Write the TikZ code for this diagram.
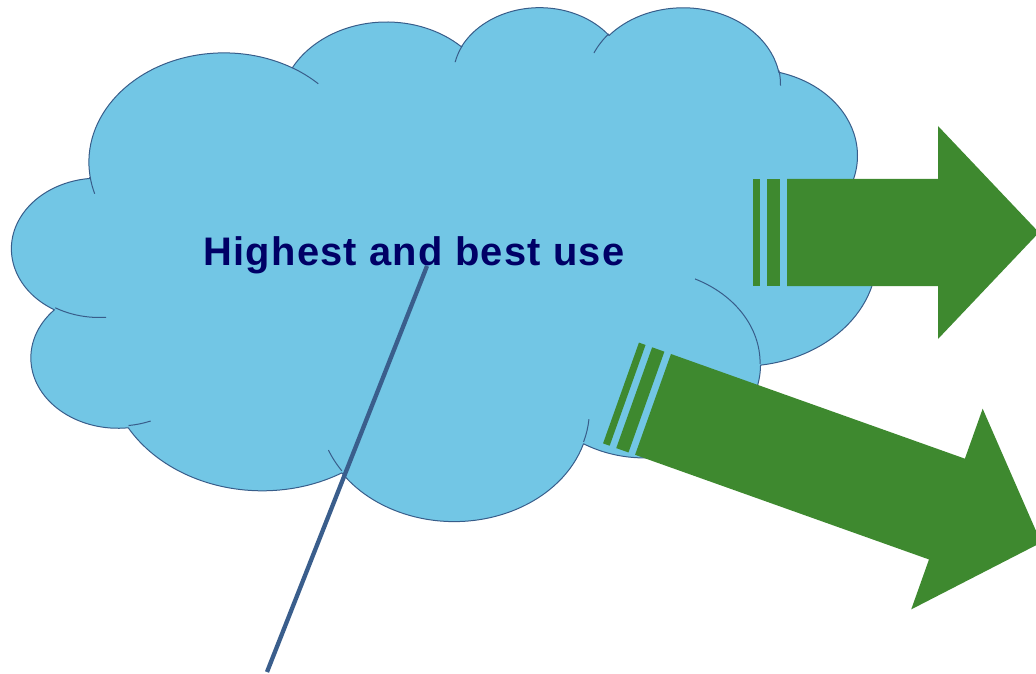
\documentclass[tikz,border=0pt]{standalone}
\usepackage{fontspec}
\newfontfamily\labelfont{Liberation Sans}[LetterSpace=3.2]
\definecolor{cloudfill}{RGB}{114,198,229}
\definecolor{cloudline}{RGB}{56,93,138}
\definecolor{arrowgreen}{RGB}{62,137,47}
\definecolor{textnavy}{RGB}{0,0,102}
\definecolor{stickblue}{RGB}{58,94,140}

% visual (OOXML) angle -> parametric angle, unwrapped near the visual one
\newcommand\vpang[4]{%
  \pgfmathsetmacro\vpd{atan2((#3)*sin(#2),(#4)*cos(#2))-(#2)}%
  \pgfmathsetmacro\vpres{(#2)+mod(\vpd+900,360)-180}%
  \xdef#1{\vpres}}
\def\cloudpath{}
\def\innerpath{}
% #1 wR, #2 hR, #3 start angle, #4 sweep
\newcommand\addarc[4]{%
  \vpang\ps{#3}{#1}{#2}\vpang\pe{(#3)+(#4)}{#1}{#2}%
  \xdef\cloudpath{\cloudpath arc[start angle=\ps,end angle=\pe,x radius=#1,y radius=#2] }}
% #1 start point, then wR hR start sweep
\newcommand\addinner[5]{%
  \vpang\ps{#4}{#2}{#3}\vpang\pe{(#4)+(#5)}{#2}{#3}%
  \xdef\innerpath{\innerpath (#1) arc[start angle=\ps,end angle=\pe,x radius=#2,y radius=#3] }}

\newcommand\stripedarrow[2]{%
  \fill[arrowgreen] (0,-53.5) rectangle (7,53.5);
  \fill[arrowgreen] (14,-53.5) rectangle (27,53.5);
  \fill[arrowgreen] (34,-53.5) -- (#1,-53.5) -- (#1,-106.5) -- ({#1+#2},0)
     -- (#1,106.5) -- (#1,53.5) -- (34,53.5) -- cycle;}

\tikzset{
  cloudshape/.style={fill=cloudfill, draw=cloudline, line width=1bp, line join=round},
  cloudinner/.style={draw=cloudline, line width=1bp},
  stickline/.style={draw=stickblue, line width=4.3bp},
  titletext/.style={font=\labelfont\bfseries\fontsize{40}{46}\selectfont, text=textnavy, anchor=base, inner sep=0pt}
}

\begin{document}
\begin{tikzpicture}[x=1bp, y=-1bp]
\clip (0,0) rectangle (1036,674);

\addarc{6.753}{9.190}{-190.48748}{123.78053}
\addarc{5.333}{7.267}{-144.10238}{89.94523}
\addarc{4.365}{5.945}{-145.80792}{99.72302}
\addarc{4.857}{6.595}{-130.98607}{117.24173}
\addarc{5.333}{7.273}{-78.70888}{109.02692}
\addarc{6.775}{9.220}{-46.26725}{130.26900}
\addarc{5.785}{7.867}{0.62502}{114.03333}
\addarc{6.752}{9.215}{22.45160}{115.17255}
\addarc{7.720}{10.543}{66.24263}{75.71102}
\addarc{4.360}{5.918}{-274.94208}{146.73557}
\addarc{4.345}{5.945}{-246.82850}{152.51885}

\addinner{4.693,26.177}{4.345}{5.945}{86.74200}{26.42950}
\addinner{6.928,34.899}{4.360}{5.918}{73.61047}{11.44747}
\addinner{16.478,39.090}{6.752}{9.215}{137.62415}{14.08110}
\addinner{28.827,34.751}{6.752}{9.215}{6.45327}{15.99835}
\addinner{34.129,22.954}{5.785}{7.867}{-70.29235}{70.91737}
\addinner{41.798,15.354}{5.333}{7.273}{30.31803}{27.75150}
\addinner{38.324,5.426}{4.857}{6.595}{-13.74433}{14.85890}
\addinner{29.078,3.952}{4.857}{6.595}{-149.18145}{18.19537}
\addinner{22.141,4.720}{4.365}{5.945}{-163.49428}{17.68635}
\addinner{14.000,5.192}{6.753}{9.190}{-66.70695}{12.31935}
\addinner{4.127,15.789}{6.753}{9.190}{157.65435}{11.85817}

\begin{scope}[shift={(12.1,6)}, x=20.01bp, y=-11.891bp]
  \path[cloudshape] (3.9,14.37) \cloudpath -- cycle;
  \path[cloudinner] \innerpath;
\end{scope}

\coordinate (stickTop) at (427,266);
\coordinate (stickEnd) at (267,672);
\draw[stickline] (stickTop) -- (stickEnd);

\node[titletext] (title) at (414,265) {Highest and best use};

\begin{scope}[shift={(753,232.5)}]
  \stripedarrow{185}{101}
\end{scope}
\begin{scope}[shift={(621,393)}, rotate=-19.6]
  \stripedarrow{346}{100}
\end{scope}
\end{tikzpicture}
\end{document}
